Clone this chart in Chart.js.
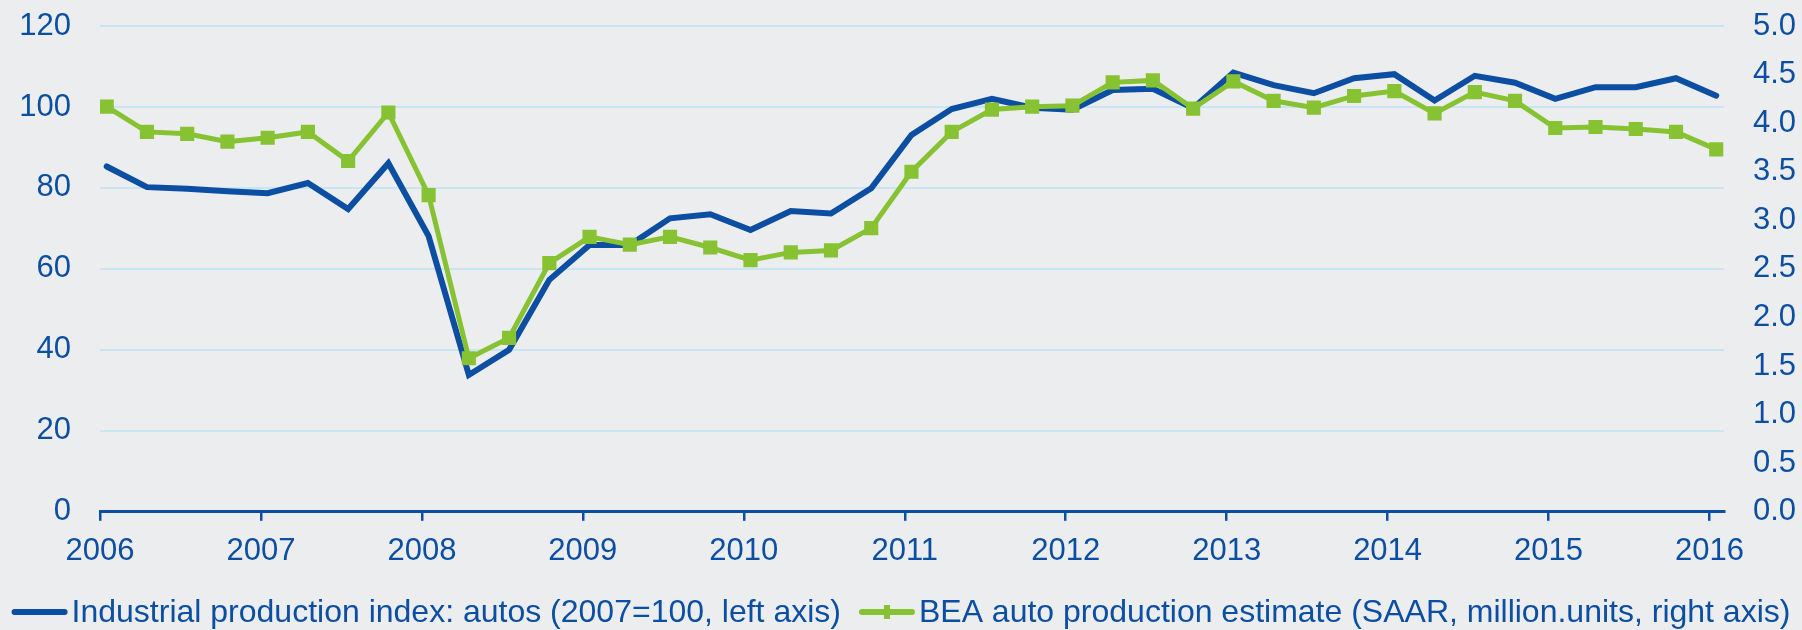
<!DOCTYPE html>
<html>
<head>
<meta charset="utf-8">
<script src="https://cdn.jsdelivr.net/npm/chart.js@4/dist/chart.umd.min.js"></script>
<style>
    html, body { margin: 0; padding: 0; background: #ecedef; }
    #wrap { width: 1802px; height: 630px; }
</style>
</head>
<body>
<div id="wrap"><canvas id="autoCanvas" width="1802" height="630"></canvas></div>
<script>
// quarterly observations, 2006Q1 .. 2016Q1
var quarters = [
    '2006Q1','2006Q2','2006Q3','2006Q4','2007Q1','2007Q2','2007Q3','2007Q4',
    '2008Q1','2008Q2','2008Q3','2008Q4','2009Q1','2009Q2','2009Q3','2009Q4',
    '2010Q1','2010Q2','2010Q3','2010Q4','2011Q1','2011Q2','2011Q3','2011Q4',
    '2012Q1','2012Q2','2012Q3','2012Q4','2013Q1','2013Q2','2013Q3','2013Q4',
    '2014Q1','2014Q2','2014Q3','2014Q4','2015Q1','2015Q2','2015Q3','2015Q4',
    '2016Q1'
];

// Industrial production index: autos (2007=100), left axis
var ipIndex = [
    85.3, 80.2, 79.8, 79.2, 78.7, 81.2, 74.8, 86.1,
    68.1, 33.8, 40.0, 57.3, 65.9, 65.9, 72.5, 73.5,
    69.6, 74.3, 73.7, 79.9, 93.1, 99.5, 102.0, 99.8,
    99.3, 104.2, 104.5, 99.7, 108.5, 105.4, 103.4, 107.1,
    108.1, 101.6, 107.7, 106.0, 102.0, 104.9, 104.9, 107.1,
    102.8
];

// BEA auto production estimate (SAAR, million units), right axis
var beaEstimate = [
    4.17, 3.91, 3.89, 3.81, 3.85, 3.91, 3.61, 4.11,
    3.26, 1.58, 1.79, 2.56, 2.83, 2.75, 2.83, 2.72,
    2.59, 2.67, 2.69, 2.92, 3.50, 3.91, 4.14, 4.17,
    4.18, 4.42, 4.44, 4.15, 4.43, 4.23, 4.16, 4.28,
    4.33, 4.10, 4.32, 4.23, 3.95, 3.96, 3.94, 3.91,
    3.73
];

var yearTicks = [2006, 2007, 2008, 2009, 2010, 2011, 2012, 2013, 2014, 2015, 2016];
var leftTicks = [0, 20, 40, 60, 80, 100, 120];
var rightTicks = [0, 0.5, 1, 1.5, 2, 2.5, 3, 3.5, 4, 4.5, 5];

var seriesNames = [
    'Industrial production index: autos (2007=100, left axis)',
    'BEA auto production estimate (SAAR, million.units, right axis)'
];

var BLUE = '#0b4ea2';
var GREEN = '#86c232';
var GRID = '#c8e5f4';
var FONT_FAMILY = '"Liberation Sans", Arial, sans-serif';

// quarter -> decimal year, plotted mid first month of the quarter
function quarterToYear(q) {
    var yr = parseInt(q.substring(0, 4), 10);
    var qn = parseInt(q.substring(5), 10) - 1;
    return yr + (qn * 3 + 0.5) / 12;
}

function toPoints(values) {
    return quarters.map(function (q, i) {
        return { x: quarterToYear(q), y: values[i] };
    });
}

// legend drawn under the x axis, line swatch + label, centred
var bottomLegend = {
    id: 'bottomLegend',
    afterDraw: function (chart) {
        var c = chart.ctx;
        var cy = 612;
        var swatch = 56, gapText = 4, gapItem = 18;
        c.save();
        c.font = '32px ' + FONT_FAMILY;
        c.textBaseline = 'middle';
        c.textAlign = 'left';
        var w0 = c.measureText(seriesNames[0]).width;
        var w1 = c.measureText(seriesNames[1]).width;
        var total = swatch + gapText + w0 + gapItem + swatch + gapText + w1;
        var x = (chart.width - total) / 2;

        c.lineCap = 'round';
        c.lineWidth = 6;
        c.strokeStyle = BLUE;
        c.beginPath(); c.moveTo(x + 3, cy); c.lineTo(x + swatch - 3, cy); c.stroke();
        x += swatch + gapText;
        c.fillStyle = BLUE;
        c.fillText(seriesNames[0], x, cy + 1);
        x += w0 + gapItem;

        c.strokeStyle = GREEN;
        c.beginPath(); c.moveTo(x + 3, cy); c.lineTo(x + swatch - 3, cy); c.stroke();
        c.fillStyle = GREEN;
        c.fillRect(x + swatch / 2 - 3, cy - 7, 6, 14);
        x += swatch + gapText;
        c.fillStyle = BLUE;
        c.fillText(seriesNames[1], x, cy + 1);
        c.restore();
    }
};

var tickFont = { family: FONT_FAMILY, size: 31 };

var ctx = document.getElementById('autoCanvas').getContext('2d');
var autoChart = new Chart(ctx, {
    type: 'line',
    data: {
        datasets: [
            {
                label: seriesNames[0],
                data: toPoints(ipIndex),
                yAxisID: 'yL',
                borderColor: BLUE,
                backgroundColor: BLUE,
                borderWidth: 6,
                borderCapStyle: 'round',
                pointRadius: 0,
                tension: 0,
                order: 2
            },
            {
                label: seriesNames[1],
                data: toPoints(beaEstimate),
                yAxisID: 'yR',
                borderColor: GREEN,
                backgroundColor: GREEN,
                borderWidth: 5,
                pointStyle: 'rect',
                pointRadius: 10,
                pointBorderWidth: 0,
                pointBackgroundColor: GREEN,
                tension: 0,
                order: 1
            }
        ]
    },
    options: {
        responsive: false,
        animation: false,
        devicePixelRatio: 1,
        layout: { padding: { top: 26, bottom: 48, left: 0, right: 0 } },
        plugins: {
            tooltip: { enabled: false },
            legend: { display: false }
        },
        scales: {
            x: {
                type: 'linear',
                min: yearTicks[0],
                max: yearTicks[yearTicks.length - 1] + 0.09,
                afterBuildTicks: function (s) {
                    s.ticks = yearTicks.map(function (y) { return { value: y }; });
                },
                ticks: {
                    color: BLUE,
                    font: tickFont,
                    padding: 12,
                    maxRotation: 0,
                    callback: function (v) { return String(v); }
                },
                grid: {
                    drawOnChartArea: false,
                    drawTicks: true,
                    tickLength: 9,
                    color: BLUE,
                    lineWidth: 2.5
                },
                border: { color: BLUE, width: 3 }
            },
            yL: {
                position: 'left',
                min: 0,
                max: 120,
                afterBuildTicks: function (s) {
                    s.ticks = leftTicks.map(function (v) { return { value: v }; });
                },
                afterFit: function (s) { s.width = 100; },
                ticks: { color: BLUE, font: tickFont, padding: 0 },
                grid: {
                    color: GRID,
                    lineWidth: 2,
                    drawTicks: true,
                    tickLength: 29,
                    tickColor: 'rgba(0,0,0,0)'
                },
                border: { display: false }
            },
            yR: {
                position: 'right',
                min: 0,
                max: 5,
                afterBuildTicks: function (s) {
                    s.ticks = rightTicks.map(function (v) { return { value: v }; });
                },
                afterFit: function (s) { s.width = 78; },
                ticks: {
                    color: BLUE,
                    font: tickFont,
                    padding: 0,
                    callback: function (v) { return Number(v).toFixed(1); }
                },
                grid: {
                    drawOnChartArea: false,
                    drawTicks: true,
                    tickLength: 29,
                    tickColor: 'rgba(0,0,0,0)'
                },
                border: { display: false }
            }
        }
    },
    plugins: [bottomLegend]
});
</script>
</body>
</html>
